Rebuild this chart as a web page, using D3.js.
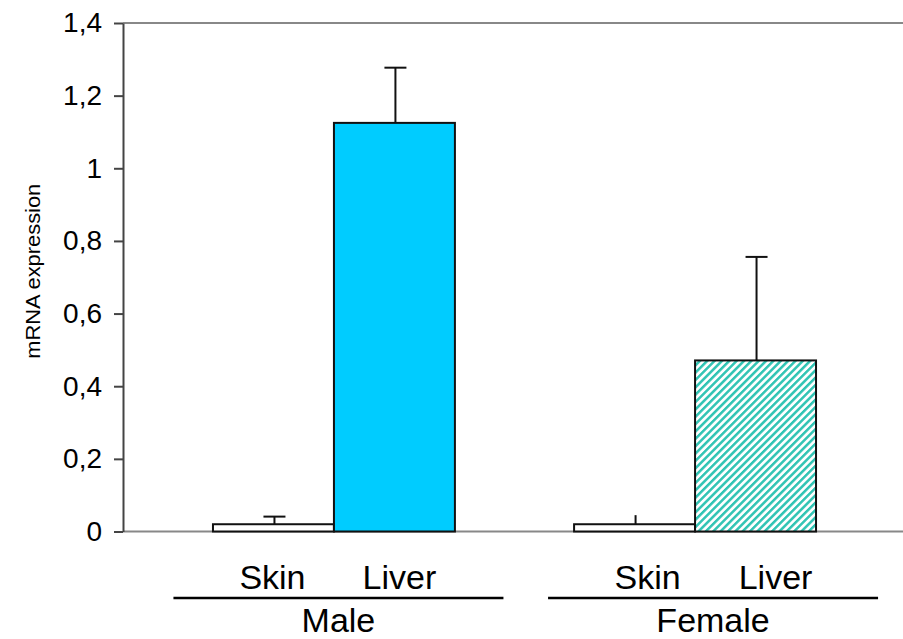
<!DOCTYPE html>
<html>
<head>
<meta charset="utf-8">
<script src="https://cdn.jsdelivr.net/npm/d3@7"></script>
<style>
  html, body { margin: 0; padding: 0; background: #fff; }
  svg { display: block; font-family: "Liberation Sans", Arial, sans-serif; }
</style>
</head>
<body>
<svg id="chart" width="903" height="639"></svg>
<script>
// ---- data ----
const groups = ["Male", "Female"];
const tissues = ["Skin", "Liver"];
const maleValues = [0.02, 1.125];
const maleErrors = [0.021, 0.152];
const femaleValues = [0.02, 0.471];
const femaleErrors = [0.025, 0.285];
const tickValues = [0, 0.2, 0.4, 0.6, 0.8, 1, 1.2, 1.4];
const tickLabels = ["0", "0,2", "0,4", "0,6", "0,8", "1", "1,2", "1,4"];
const yTitle = "mRNA expression";

const rows = [];
groups.forEach((g, gi) => {
  const vals = gi === 0 ? maleValues : femaleValues;
  const errs = gi === 0 ? maleErrors : femaleErrors;
  tissues.forEach((t, ti) => rows.push({ group: g, tissue: t, value: vals[ti], err: errs[ti] }));
});

// ---- layout ----
const svg = d3.select("#chart");
const plotLeft = 123, plotRight = 903, plotTop = 23, plotBottom = 531.5;

const y = d3.scaleLinear().domain([0, 1.4]).range([plotBottom, plotTop]);
const xGroup = d3.scaleBand().domain(groups).range([plotLeft + 1.5, plotRight + 1.5])
  .paddingInner(0.33).paddingOuter(0.245);
const xTissue = d3.scaleBand().domain(tissues).range([0, xGroup.bandwidth()]).padding(0);

// hatch pattern
const defs = svg.append("defs");
const P = 5.2;
const pat = defs.append("pattern")
  .attr("id", "hatch").attr("patternUnits", "userSpaceOnUse")
  .attr("width", P).attr("height", P)
  .attr("patternTransform", "rotate(45)");
pat.append("rect").attr("width", P).attr("height", P).attr("fill", "#ffffff");
pat.append("rect").attr("x", 0).attr("width", 2.5).attr("height", P).attr("fill", "#30c4b4");

const fills = { "Male|Skin": "#ffffff", "Male|Liver": "#00ccff", "Female|Skin": "#ffffff", "Female|Liver": "url(#hatch)" };
const capW = { "Male|Skin": 22, "Male|Liver": 22, "Female|Skin": 0, "Female|Liver": 22 };

// top frame line and baseline
svg.append("line").attr("x1", plotLeft).attr("x2", plotRight).attr("y1", y(1.4)).attr("y2", y(1.4))
  .attr("stroke", "#888").attr("stroke-width", 2);
svg.append("line").attr("x1", plotLeft).attr("x2", plotRight).attr("y1", y(0)).attr("y2", y(0))
  .attr("stroke", "#888").attr("stroke-width", 2);

// y axis
const yAxis = d3.axisLeft(y).tickValues(tickValues)
  .tickFormat((d, i) => tickLabels[i]).tickSize(9).tickSizeOuter(0).tickPadding(12);
const ga = svg.append("g").attr("transform", `translate(${plotLeft},0)`).call(yAxis);
ga.select(".domain").attr("stroke", "#444").attr("stroke-width", 2);
ga.selectAll(".tick line").attr("stroke", "#444").attr("stroke-width", 2);
ga.selectAll(".tick text").attr("font-size", 28).attr("fill", "#000")
  .attr("font-family", "'Liberation Sans', Arial, sans-serif");

// y title
svg.append("text")
  .attr("transform", `translate(40,${(plotTop + plotBottom) / 2 - 6}) rotate(-90)`)
  .attr("text-anchor", "middle").attr("font-size", 21)
  .attr("textLength", 175).attr("lengthAdjust", "spacingAndGlyphs")
  .text(yTitle);

// bars
const gb = svg.append("g");
rows.forEach(r => {
  const key = r.group + "|" + r.tissue;
  const x0 = xGroup(r.group) + xTissue(r.tissue);
  const w = xTissue.bandwidth();
  gb.append("rect")
    .attr("x", x0).attr("y", y(r.value))
    .attr("width", w).attr("height", y(0) - y(r.value))
    .attr("fill", fills[key]).attr("stroke", "#111").attr("stroke-width", 2);
  const cx = x0 + w / 2 + 1;
  gb.append("line").attr("x1", cx).attr("x2", cx)
    .attr("y1", y(r.value)).attr("y2", y(r.value + r.err))
    .attr("stroke", "#111").attr("stroke-width", 2);
  if (capW[key] > 0) {
    gb.append("line").attr("x1", cx - capW[key] / 2).attr("x2", cx + capW[key] / 2)
      .attr("y1", y(r.value + r.err)).attr("y2", y(r.value + r.err))
      .attr("stroke", "#111").attr("stroke-width", 2);
  }
});

// category labels
const labelShift = { "Male|Skin": -1, "Male|Liver": 5, "Female|Skin": 13, "Female|Liver": 20 };
const groupShift = { "Male": 4.5, "Female": 18 };
rows.forEach(r => {
  const key = r.group + "|" + r.tissue;
  const cx = xGroup(r.group) + xTissue(r.tissue) + xTissue.bandwidth() / 2 + labelShift[key];
  svg.append("text").attr("x", cx).attr("y", 589)
    .attr("text-anchor", "middle").attr("font-size", 34).text(r.tissue);
});
groups.forEach(g => {
  const cx = xGroup(g) + xGroup.bandwidth() / 2 + groupShift[g];
  svg.append("line").attr("x1", cx - 165).attr("x2", cx + 165)
    .attr("y1", 598).attr("y2", 598).attr("stroke", "#000").attr("stroke-width", 2.5);
  svg.append("text").attr("x", cx).attr("y", 632)
    .attr("text-anchor", "middle").attr("font-size", 34).text(g);
});
</script>
</body>
</html>
